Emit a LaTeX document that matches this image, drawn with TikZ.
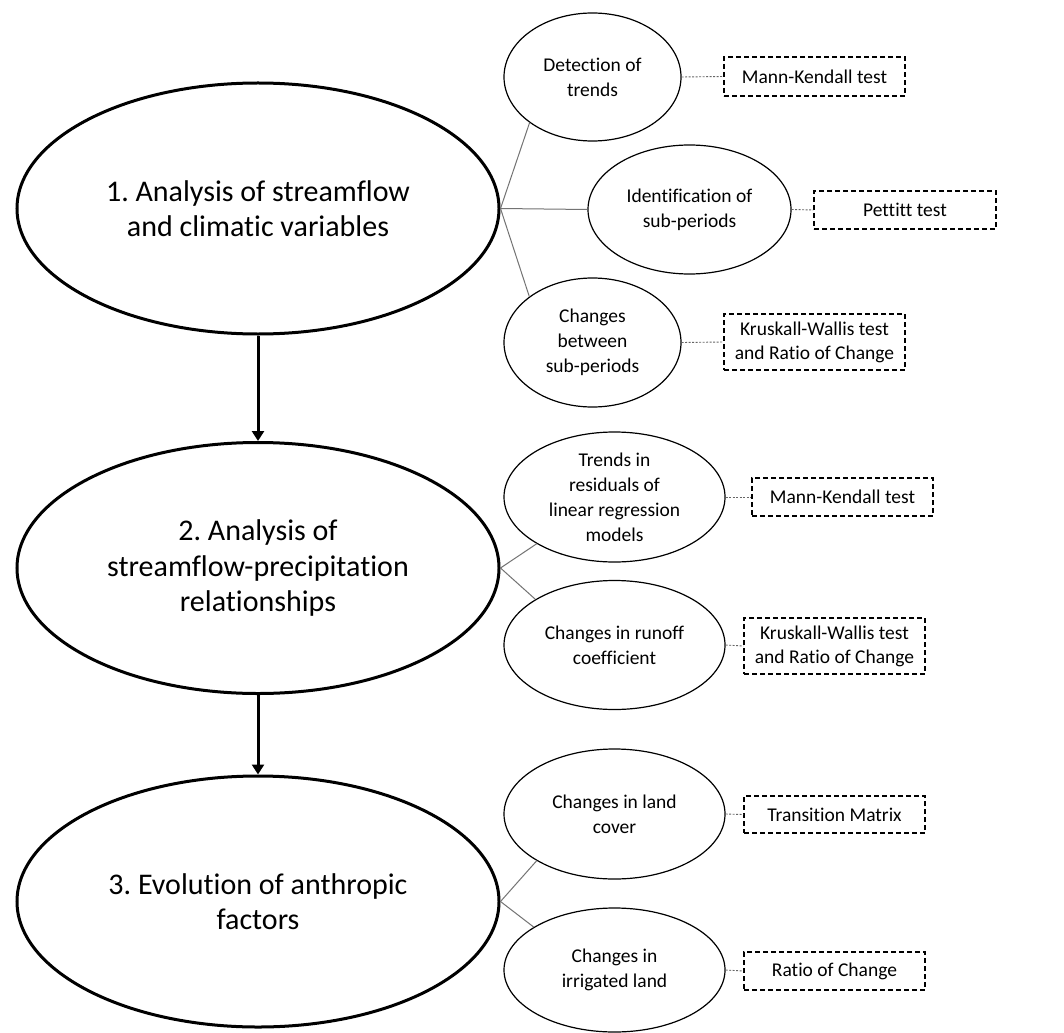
\documentclass[tikz,border=0pt]{standalone}
\usepackage{fontspec}
\setmainfont{Carlito}[Ligatures=NoCommon]
\usetikzlibrary{shapes.geometric,arrows.meta}
\frenchspacing
\tikzset{
  bigell/.style={ellipse, draw=black, line width=3pt, inner sep=0pt, align=center,
    minimum width=482pt, minimum height=251pt, font=\fontsize{30}{35.5}\selectfont},
  smallell/.style={ellipse, draw=black, line width=1.2pt, inner sep=0pt, align=center,
    minimum height=129pt, font=\fontsize{19.5}{25}\selectfont},
  methbox/.style={rectangle, draw=black, line width=1.3pt, dash pattern=on 5pt off 3pt,
    inner sep=0pt, align=center, minimum width=181pt, font=\fontsize{19.5}{24}\selectfont},
  flowarrow/.style={line width=3pt, -{Triangle[length=10pt,width=12pt]}},
  branch/.style={draw=black!55, line width=1pt},
  dotlink/.style={draw=black!60, line width=0.9pt, dash pattern=on 2pt off 1.5pt}
}
\begin{document}
\begin{tikzpicture}[x=1pt,y=-1pt]
\useasboundingbox (0,0) rectangle (1064,1032);
\fill[white] (0,0) rectangle (1064,1032);

% main ellipses
\node[bigell] (e1) at (258,208.5) {1. Analysis of streamflow\\and climatic variables};
\node[bigell] (e2) at (258,568) {2. Analysis of\\streamflow-precipitation\\relationships};
\node[bigell] (e3) at (258,901.5) {3. Evolution of anthropic\\factors};

% small ellipses
\node[smallell, minimum width=177pt, minimum height=128pt] (det) at (592.5,77) {Detection of\\trends};
\node[smallell, minimum width=203pt] (idn) at (689.5,209.5) {Identification of\\sub-periods};
\node[smallell, minimum width=177pt] (chb) at (592.5,342.5) {Changes\\between\\sub-periods};
\node[smallell, minimum width=221pt, minimum height=130pt, inner ysep=-22pt] (trd) at (614.5,497) {Trends in\\residuals of\\linear regression\\models};
\node[smallell, minimum width=221pt] (run) at (614.5,645) {Changes in runoff\\coefficient};
\node[smallell, minimum width=221pt, minimum height=130pt] (lnd) at (614.5,814) {Changes in land\\cover};
\node[smallell, minimum width=221pt, minimum height=124pt] (irr) at (614.5,970) {Changes in\\irrigated land};

% method boxes
\node[methbox, minimum height=39pt] (mk1) at (814.5,76.5) {Mann-Kendall test};
\node[methbox, minimum width=182pt, minimum height=38pt] (pet) at (905,210) {Pettitt test};
\node[methbox, minimum height=56pt] (kw1) at (814.5,342) {Kruskall-Wallis test\\and Ratio of Change};
\node[methbox, minimum height=38pt] (mk2) at (842.5,497) {Mann-Kendall test};
\node[methbox, minimum height=56pt] (kw2) at (834.5,646) {Kruskall-Wallis test\\and Ratio of Change};
\node[methbox, minimum height=37pt] (tm) at (834.5,814.5) {Transition Matrix};
\node[methbox, minimum height=38pt] (roc) at (834.5,971) {Ratio of Change};

% flow arrows
\draw[flowarrow] (e1.south) -- (e2.north);
\draw[flowarrow] (e2.south) -- (e3.north);

% branches
\draw[branch] (e1.east) -- (det.216);
\draw[branch] (e1.east) -- (idn.west);
\draw[branch] (e1.east) -- (chb.144);
\draw[branch] (e2.east) -- (trd.211);
\draw[branch] (e2.east) -- (run.150);
\draw[branch] (e3.east) -- (lnd.211);
\draw[branch] (e3.east) -- (irr.152);

% dotted links
\draw[dotlink] (det.east) -- (mk1.west);
\draw[dotlink] (idn.east) -- (pet.west);
\draw[dotlink] (chb.east) -- (kw1.west);
\draw[dotlink] (trd.east) -- (mk2.west);
\draw[dotlink] (run.east) -- (kw2.west);
\draw[dotlink] (lnd.east) -- (tm.west);
\draw[dotlink] (irr.east) -- (roc.west);
\end{tikzpicture}
\end{document}
